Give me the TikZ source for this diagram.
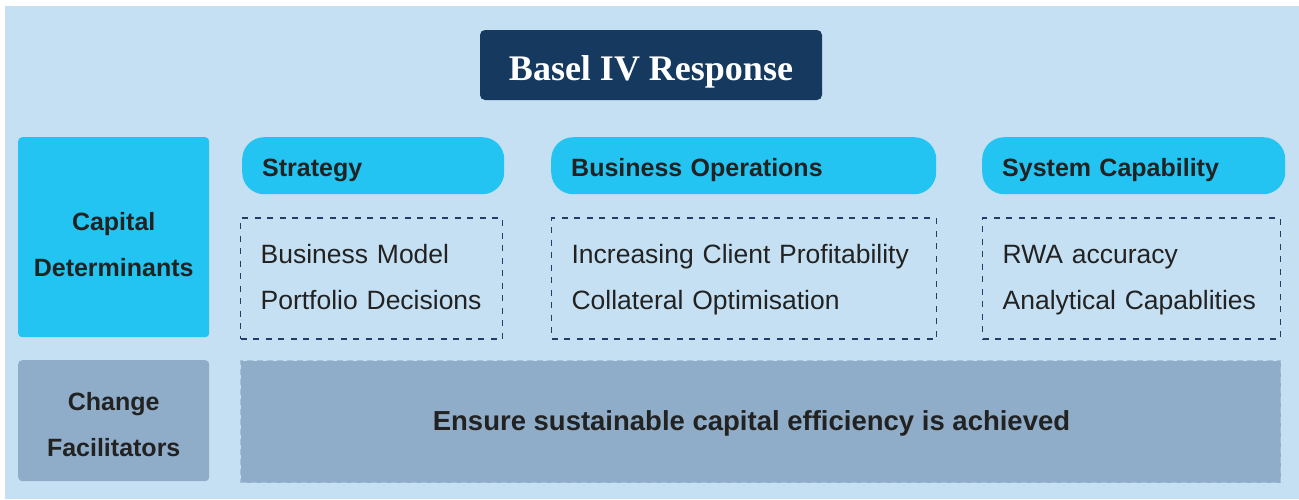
\documentclass[tikz,border=0pt]{standalone}
\usepackage{fontspec}
\setmainfont{Liberation Sans}
\newfontfamily\titlefont{Liberation Serif}
\usetikzlibrary{positioning}

\definecolor{bgblue}{RGB}{197,224,242}
\definecolor{navy}{RGB}{22,57,95}
\definecolor{skyblue}{RGB}{35,195,242}
\definecolor{slate}{RGB}{143,173,200}
\definecolor{slateline}{RGB}{165,190,214}
\definecolor{ink}{RGB}{34,34,34}
\definecolor{dashblue}{RGB}{35,62,102}

\begin{document}
\begin{tikzpicture}[x=1pt,y=-1pt,
    every node/.style={inner sep=0pt,text=ink},
    head/.style={fill=skyblue,rounded corners=22pt,minimum height=57pt,
      inner xsep=20pt,align=left,text height=21pt,text depth=0pt,
      font=\fontsize{25}{30}\selectfont\bfseries},
    items/.style={draw=dashblue,line width=1.2pt,dash pattern=on 6pt off 6.5pt,
      minimum height=121pt,inner xsep=20pt,align=left,
      text height=20pt,text depth=51pt,font=\fontsize{26.5}{46}\selectfont},
    side/.style={rounded corners=4pt,text width=191pt,align=center,
      anchor=north west,font=\fontsize{25}{46}\selectfont\bfseries}]
  \fill[white] (0,0) rectangle (1299,499);
  \fill[bgblue] (5,6) rectangle (1299,499);
  \useasboundingbox (0,0) rectangle (1299,499);

  \node (title) [fill=navy,rounded corners=5pt,minimum width=342pt,minimum height=70pt,
    text=white,text height=30pt,text depth=0pt,font=\titlefont\fontsize{36}{40}\selectfont\bfseries]
    at (651,65) {Basel IV Response};

  % row labels
  \node (cap) [side,fill=skyblue,minimum height=200pt,text height=20pt,text depth=34pt]
    at (18,137) {Capital\\Determinants};
  \node (chg) [side,fill=slate,minimum height=121pt,text height=20pt,text depth=41pt]
    at (18,360) {Change\\Facilitators};

  % column headers
  \node (strat) [head,anchor=north west,text width=222pt] at (242,137) {Strategy};
  \node (ops) [head,anchor=north west,text width=345pt] at (551,137) {Business Operations};
  \node (sys) [head,anchor=north west,text width=263pt] at (982,137) {System Capability};

  % what each column covers
  \node (sb) [items,text width=222pt,below right=23pt and -2pt of strat.south west]
    {Business Model\\Portfolio Decisions};
  \node (ob) [items,text width=345pt,below right=23pt and 0pt of ops.south west]
    {Increasing Client Profitability\\Collateral Optimisation};
  \node (yb) [items,text width=258pt,below right=23pt and 0pt of sys.south west]
    {RWA accuracy\\Analytical Capablities};

  \node (goal) [fill=slate,draw=slateline,line width=1pt,dash pattern=on 6pt off 4pt,
    anchor=north west,minimum width=1040pt,minimum height=122pt,
    text height=20pt,text depth=2pt,font=\fontsize{27.5}{32}\selectfont\bfseries]
    at (240,360) {Ensure sustainable capital efficiency is achieved\kern18pt};
\end{tikzpicture}
\end{document}
